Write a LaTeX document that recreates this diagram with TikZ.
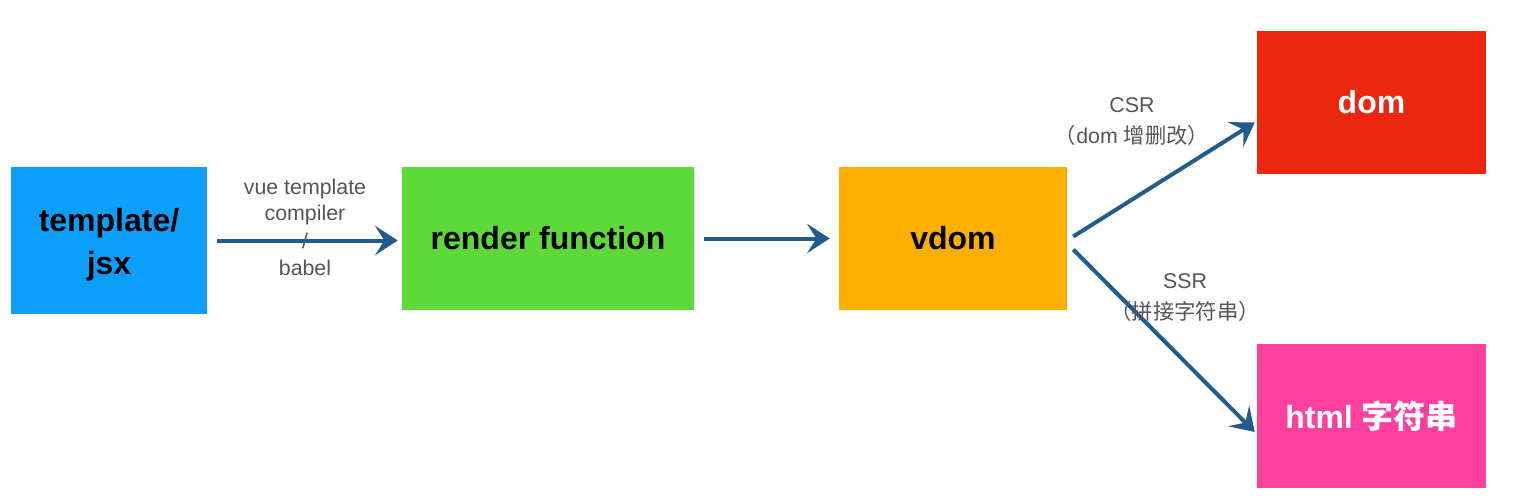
\documentclass[tikz,border=0pt]{standalone}
\usepackage{fontspec}
\setmainfont{Liberation Sans}
\newfontfamily\cjk{Noto Sans CJK SC}
\usetikzlibrary{arrows.meta,calc}
\definecolor{cblue}{HTML}{0C9EFB}
\definecolor{cgreen}{HTML}{5ED93A}
\definecolor{corange}{HTML}{FDAF00}
\definecolor{cred}{HTML}{EC2710}
\definecolor{cpink}{HTML}{FD3F9E}
\definecolor{carrow}{HTML}{235C8C}
\definecolor{clabel}{HTML}{555555}
\begin{document}
\begin{tikzpicture}[x=0.75pt,y=-0.75pt,
  box/.style={rectangle,inner sep=0pt,font=\fontsize{24}{32}\selectfont\bfseries,align=center},
  lbl/.style={font=\fontsize{16}{19.5}\selectfont,text=clabel,align=center,inner sep=0pt},
  conn/.style={draw=carrow,line width=3pt,-{Stealth[length=17pt,width=22pt,inset=7pt]}}]
\useasboundingbox (0,0) rectangle (1534,503);
\fill[white] (0,0) rectangle (1534,503);
\node[box,fill=cblue,minimum width=196*0.75pt,minimum height=147*0.75pt] (tpl) at (109,240.5) {};
\node[box,text=black] (tpltext) at (109,245) {template/\\jsx};
\node[box,fill=cgreen,minimum width=292*0.75pt,minimum height=143*0.75pt] (rf) at (548,238.5) {render function};
\node[box,fill=corange,minimum width=228*0.75pt,minimum height=143*0.75pt] (vd) at (953,238.5) {vdom};
\node[box,fill=cred,text=white,minimum width=229*0.75pt,minimum height=143*0.75pt] (dom) at (1371.5,102.5) {dom};
\node[box,fill=cpink,text=white,minimum width=229*0.75pt,minimum height=144*0.75pt] (html) at (1371.5,416) {html {\cjk\bfseries 字符串}};
\draw[conn,shorten <=10*0.75pt,shorten >=4*0.75pt] (tpl.east) -- (tpl.east -| rf.west);
\draw[conn,shorten <=10*0.75pt,shorten >=9*0.75pt] (rf.east) -- (vd.west);
\coordinate (c1s) at ($(vd.east)+(6,-2)$);
\coordinate (c1e) at ($(dom.west)+(-2,20)$);
\coordinate (c2s) at ($(vd.east)+(6,11)$);
\coordinate (c2e) at ($(html.west)+(-2,16)$);
\draw[conn] (c1s) -- (c1e);
\draw[conn] (c2s) -- (c2e);
\node[lbl] (l1a) at (305,189) {vue template};
\node[lbl] (l1b) at (305,215) {compiler};
\node[lbl] (l1c) at (305,241) {/};
\node[lbl] (l1d) at (305,268) {babel};
\node[lbl] (l2a) at (1132,105) {CSR};
\node[lbl] (l2b) at (1132,135) {{\cjk （}dom {\cjk 增删改）}};
\node[lbl] (l3a) at (1185,281) {SSR};
\node[lbl] (l3b) at (1185,311) {\cjk （拼接字符串）};
\end{tikzpicture}
\end{document}
